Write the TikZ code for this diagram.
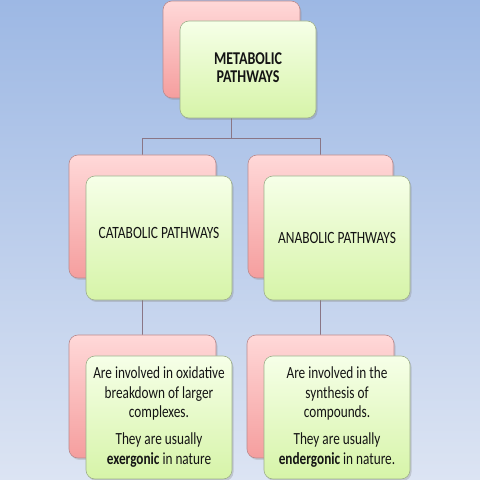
\documentclass[tikz,border=0pt]{standalone}
\usepackage{fontspec}
\setmainfont{Carlito}
\usepackage{graphicx}
\usetikzlibrary{shadows}

\definecolor{bgtop}{HTML}{9DB8E4}
\definecolor{bgbottom}{HTML}{DCE4F3}
\definecolor{pinktop}{HTML}{FFD8D8}
\definecolor{pinkbottom}{HTML}{F59E9E}
\definecolor{pinkedge}{HTML}{B98A8E}
\definecolor{greentop}{HTML}{F6FFE8}
\definecolor{greenbottom}{HTML}{D6F4A8}
\definecolor{greenedge}{HTML}{9EB08C}
\definecolor{linkgray}{HTML}{8A7686}
\definecolor{inkblack}{HTML}{141414}

\pgfdeclarelayer{back}
\pgfdeclarelayer{wires}
\pgfsetlayers{back,wires,main}

\newcommand{\squeeze}[1]{\scalebox{0.78}[1]{#1}}

\begin{document}
\begin{tikzpicture}[x=1pt, y=1pt,
    pinkbox/.style={draw=pinkedge, line width=0.6pt, rounded corners=9pt,
      top color=pinktop, bottom color=pinkbottom, inner sep=0pt,
      drop shadow={opacity=0.25, shadow xshift=1.5pt, shadow yshift=-2pt}},
    greenbox/.style={draw=greenedge, line width=0.6pt, rounded corners=9pt,
      top color=greentop, bottom color=greenbottom, inner sep=0pt,
      text=inkblack, align=center,
      drop shadow={opacity=0.3, shadow xshift=1.5pt, shadow yshift=-2pt}},
    link/.style={draw=linkgray, line width=0.8pt}]

  \begin{pgfonlayer}{back}
    \shade[top color=bgtop, bottom color=bgbottom] (0,0) rectangle (480,480);
  \end{pgfonlayer}
  \useasboundingbox (0,0) rectangle (480,480);

  % top level
  \node[pinkbox, minimum width=137pt, minimum height=97pt] (metaBack) at (231.5,430.5) {};
  \node[greenbox, minimum width=136pt, minimum height=97pt,
        font=\fontsize{18}{18}\selectfont\bfseries] (meta) at (248,410.5)
        {\squeeze{\begin{tabular}{@{}c@{}}METABOLIC\\PATHWAYS\end{tabular}}};

  % second level
  \node[pinkbox, minimum width=147pt, minimum height=123pt] (cataBack) at (142.5,263.5) {};
  \node[greenbox, minimum width=146pt, minimum height=124pt,
        font=\fontsize{17.2}{19}\selectfont] (cata) at (159,242)
        {\raisebox{10pt}{\squeeze{CATABOLIC PATHWAYS}}};
  \node[pinkbox, minimum width=145pt, minimum height=123pt] (anaBack) at (320.5,263.5) {};
  \node[greenbox, minimum width=146pt, minimum height=124pt,
        font=\fontsize{17.2}{19}\selectfont] (ana) at (337,242)
        {\squeeze{ANABOLIC PATHWAYS}};

  % notes
  \node[pinkbox, minimum width=147pt, minimum height=123pt] (cataNoteBack) at (142.5,83.5) {};
  \node[greenbox, minimum width=146pt, minimum height=123pt,
        font=\fontsize{17}{19.5}\selectfont] (cataNote) at (159,62.5)
        {\squeeze{\begin{tabular}{@{}c@{}}Are involved in oxidative\\breakdown of larger\\complexes.\\[7.5pt]
         They are usually\\\textbf{exergonic} in nature\end{tabular}}};
  \node[pinkbox, minimum width=147pt, minimum height=123pt] (anaNoteBack) at (320.5,83.5) {};
  \node[greenbox, minimum width=146pt, minimum height=123pt,
        font=\fontsize{17}{19.5}\selectfont] (anaNote) at (337,62.5)
        {\squeeze{\begin{tabular}{@{}c@{}}Are involved in the\\synthesis of\\compounds.\\[7.5pt]
         They are usually\\\textbf{endergonic} in nature.\end{tabular}}};

  % connectors behind the boxes
  \begin{pgfonlayer}{wires}
    \coordinate (fork) at (231.5,342);
    \draw[link] (metaBack) -- (fork);
    \draw[link] (fork) -| (cataBack);
    \draw[link] (fork) -| (anaBack);
    \draw[link] (cataBack) -- (cataNoteBack);
    \draw[link] (anaBack) -- (anaNoteBack);
  \end{pgfonlayer}
\end{tikzpicture}
\end{document}
